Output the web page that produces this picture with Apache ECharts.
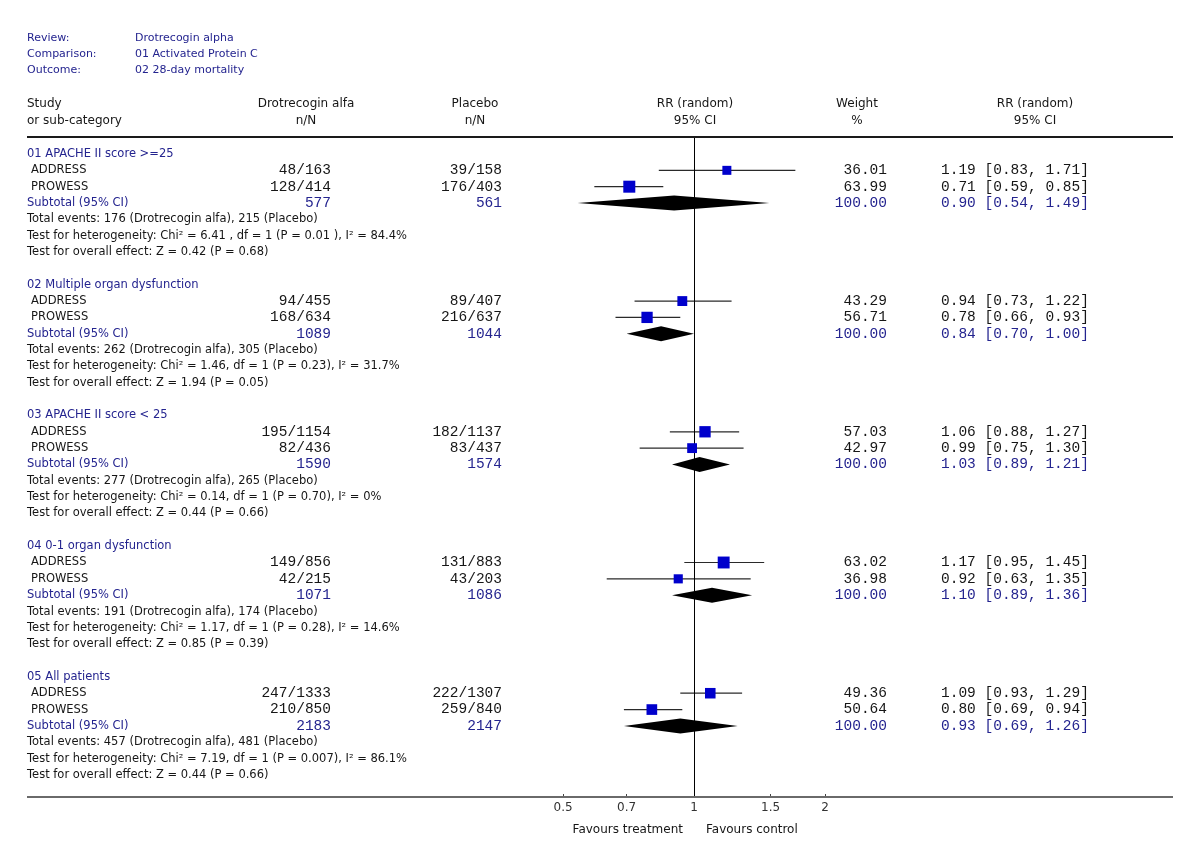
<!DOCTYPE html>
<html><head><meta charset="utf-8">
<script src="https://cdn.jsdelivr.net/npm/echarts@6/dist/echarts.min.js"></script>
<style>html,body{margin:0;padding:0;background:#fff}#c{width:1200px;height:866px}</style>
</head><body><div id="c"></div>
<script>
// ---------------- data ----------------
const reviewLabels = ['Review:', 'Comparison:', 'Outcome:'];
const reviewValues = ['Drotrecogin alpha', '01 Activated Protein C', '02 28-day mortality'];
const groups = ['01 APACHE II score >=25', '02 Multiple organ dysfunction', '03 APACHE II score < 25', '04 0-1 organ dysfunction', '05 All patients'];
const studies = ['ADDRESS', 'PROWESS'];
const treatEvents = [[48, 128], [94, 168], [195, 82], [149, 42], [247, 210]];
const treatTotal  = [[163, 414], [455, 634], [1154, 436], [856, 215], [1333, 850]];
const placEvents  = [[39, 176], [89, 216], [182, 83], [131, 43], [222, 259]];
const placTotal   = [[158, 403], [407, 637], [1137, 437], [883, 203], [1307, 840]];
const weights = [[36.01, 63.99], [43.29, 56.71], [57.03, 42.97], [63.02, 36.98], [49.36, 50.64]];
const rr = [[1.19, 0.71], [0.94, 0.78], [1.06, 0.99], [1.17, 0.92], [1.09, 0.80]];
const rrLo = [[0.83, 0.59], [0.73, 0.66], [0.88, 0.75], [0.95, 0.63], [0.93, 0.69]];
const rrHi = [[1.71, 0.85], [1.22, 0.93], [1.27, 1.30], [1.45, 1.35], [1.29, 0.94]];
const subTreatTotal = [577, 1089, 1590, 1071, 2183];
const subPlacTotal = [561, 1044, 1574, 1086, 2147];
const subRR = [0.90, 0.84, 1.03, 1.10, 0.93];
const subLo = [0.54, 0.70, 0.89, 0.89, 0.69];
const subHi = [1.49, 1.00, 1.21, 1.36, 1.26];
const totalEventsTreat = [176, 262, 277, 191, 457];
const totalEventsPlac = [215, 305, 265, 174, 481];
const hetText = [
  'Chi\u00b2 = 6.41 , df = 1 (P = 0.01 ), I\u00b2 = 84.4%',
  'Chi\u00b2 = 1.46, df = 1 (P = 0.23), I\u00b2 = 31.7%',
  'Chi\u00b2 = 0.14, df = 1 (P = 0.70), I\u00b2 = 0%',
  'Chi\u00b2 = 1.17, df = 1 (P = 0.28), I\u00b2 = 14.6%',
  'Chi\u00b2 = 7.19, df = 1 (P = 0.007), I\u00b2 = 86.1%'
];
const overallZ = ['0.42', '1.94', '0.44', '0.85', '0.44'];
const overallP = ['0.68', '0.05', '0.66', '0.39', '0.66'];
const tickValues = [0.5, 0.7, 1, 1.5, 2];
const tickLabels = ['0.5', '0.7', '1', '1.5', '2'];
const favours = ['Favours treatment', 'Favours control'];
const colHeaders = [['Study', 'or sub-category'], ['Drotrecogin alfa', 'n/N'], ['Placebo', 'n/N'], ['RR (random)', '95% CI'], ['Weight', '%'], ['RR (random)', '95% CI']];

// ---------------- layout ----------------
const ROW0 = 154, ROWH = 16.34, H = 866, W = 1200;
const X1PX = 694, DEC = 435; // pixel of RR=1 and pixels per decade
const LOGMIN = 0.1, LOGMAX = 10;
const gridLeft = X1PX + DEC * Math.log10(LOGMIN);
const gridRight = W - (X1PX + DEC * Math.log10(LOGMAX));
const PLOT_TOP = 137, PLOT_BOT = 797;
const rowOf = px => (px - ROW0) / ROWH;

const SANS = '11.5px "DejaVu Sans", sans-serif';
const SANS_R = '11px "DejaVu Sans", sans-serif';
const SANS_H = '12px "DejaVu Sans", sans-serif';
const MONO = '14.5px "Liberation Mono", "Courier New", monospace';
const BLACK = '#161616', BLUE = '#24248f';
const COL = { name: 27, study: 31, treat: 331, plac: 502, weight: 887, ci: 941, hdr: [27, 306, 475, 695, 857, 1035], rev: 135 };

const fmt = v => v.toFixed(2);
const texts = [];
function T(x, row, text, align, font, color) { texts.push({ x, row, text, align, font, color }); }

reviewLabels.forEach((l, i) => {
  const row = rowOf(38 + i * 16.2);
  T(COL.name, row, l, 'left', SANS_R, BLUE);
  T(COL.rev, row, reviewValues[i], 'left', SANS_R, BLUE);
});
colHeaders.forEach((h, c) => {
  h.forEach((s, k) => T(COL.hdr[c], rowOf(104 + k * 17), s, c === 0 ? 'left' : 'center', SANS_H, BLACK));
});

const squares = [], ciLines = [], diamonds = [];
groups.forEach((g, gi) => {
  const base = gi * 8;
  T(COL.name, base, g, 'left', SANS, BLUE);
  studies.forEach((s, si) => {
    const row = base + 1 + si;
    T(COL.study, row, s, 'left', SANS, BLACK);
    T(COL.treat, row, treatEvents[gi][si] + '/' + treatTotal[gi][si], 'right', MONO, BLACK);
    T(COL.plac, row, placEvents[gi][si] + '/' + placTotal[gi][si], 'right', MONO, BLACK);
    T(COL.weight, row, fmt(weights[gi][si]), 'right', MONO, BLACK);
    T(COL.ci, row, fmt(rr[gi][si]) + ' [' + fmt(rrLo[gi][si]) + ', ' + fmt(rrHi[gi][si]) + ']', 'left', MONO, BLACK);
    squares.push({ value: [rr[gi][si], row], symbolSize: 1.5 * Math.sqrt(weights[gi][si]) });
    ciLines.push([rrLo[gi][si], rrHi[gi][si], row]);
  });
  const srow = base + 3;
  T(COL.name, srow, 'Subtotal (95% CI)', 'left', SANS, BLUE);
  T(COL.treat, srow, String(subTreatTotal[gi]), 'right', MONO, BLUE);
  T(COL.plac, srow, String(subPlacTotal[gi]), 'right', MONO, BLUE);
  T(COL.weight, srow, '100.00', 'right', MONO, BLUE);
  T(COL.ci, srow, fmt(subRR[gi]) + ' [' + fmt(subLo[gi]) + ', ' + fmt(subHi[gi]) + ']', 'left', MONO, BLUE);
  diamonds.push([subLo[gi], subRR[gi], subHi[gi], srow]);
  T(COL.name, base + 4, 'Total events: ' + totalEventsTreat[gi] + ' (Drotrecogin alfa), ' + totalEventsPlac[gi] + ' (Placebo)', 'left', SANS, BLACK);
  T(COL.name, base + 5, 'Test for heterogeneity: ' + hetText[gi], 'left', SANS, BLACK);
  T(COL.name, base + 6, 'Test for overall effect: Z = ' + overallZ[gi] + ' (P = ' + overallP[gi] + ')', 'left', SANS, BLACK);
});
const FAV = '12px "DejaVu Sans", sans-serif';
T(683, rowOf(830), favours[0], 'right', FAV, BLACK);
T(706, rowOf(830), favours[1], 'left', FAV, BLACK);

// ---------------- chart ----------------
const chart = echarts.init(document.getElementById('c'), null, { renderer: 'canvas' });
const yMinTable = rowOf(0), yMaxTable = rowOf(H);
const yMinPlot = rowOf(PLOT_TOP), yMaxPlot = rowOf(PLOT_BOT);

chart.setOption({
  backgroundColor: '#fff',
  animation: false,
  grid: [
    { left: 0, right: 0, top: 0, bottom: 0 },
    { left: gridLeft, right: gridRight, top: PLOT_TOP, bottom: H - PLOT_BOT }
  ],
  xAxis: [
    { gridIndex: 0, type: 'value', min: 0, max: W, show: false },
    {
      gridIndex: 1, type: 'log', logBase: 10, min: LOGMIN, max: LOGMAX, position: 'bottom',
      axisLine: { show: false, onZero: false },
      splitLine: { show: false },
      axisTick: { show: true, inside: true, length: 3, lineStyle: { color: '#444', width: 1 }, customValues: tickValues },
      axisLabel: { show: true, customValues: tickValues, margin: 5, color: '#333', fontSize: 12, fontFamily: '"DejaVu Sans", sans-serif',
        formatter: v => { const i = tickValues.findIndex(t => Math.abs(t - v) < 1e-9); return i >= 0 ? tickLabels[i] : ''; } }
    }
  ],
  yAxis: [
    { gridIndex: 0, type: 'value', inverse: true, min: yMinTable, max: yMaxTable, show: false },
    { gridIndex: 1, type: 'value', inverse: true, min: yMinPlot, max: yMaxPlot, show: false }
  ],
  graphic: [
    { type: 'line', shape: { x1: 27, y1: PLOT_TOP, x2: 1173, y2: PLOT_TOP }, style: { stroke: '#1a1a1a', lineWidth: 2 }, z: 10 },
    { type: 'line', shape: { x1: 27, y1: PLOT_BOT, x2: 1173, y2: PLOT_BOT }, style: { stroke: '#6a6a6a', lineWidth: 2 }, z: 10 }
  ],
  series: [
    {
      type: 'custom', xAxisIndex: 0, yAxisIndex: 0, clip: false,
      data: texts.map(t => [t.x, t.row]),
      renderItem: (params, api) => {
        const t = texts[params.dataIndex];
        const p = api.coord([t.x, t.row]);
        return { type: 'text', x: p[0], y: p[1], style: { text: t.text, align: t.align, verticalAlign: 'middle', font: t.font, fill: t.color } };
      },
      silent: true
    },
    {
      type: 'custom', xAxisIndex: 1, yAxisIndex: 1, clip: false,
      data: ciLines,
      encode: { x: [0, 1], y: 2 },
      renderItem: (params, api) => {
        const a = api.coord([api.value(0), api.value(2)]);
        const b = api.coord([api.value(1), api.value(2)]);
        return { type: 'line', shape: { x1: a[0], y1: a[1], x2: b[0], y2: b[1] }, style: { stroke: '#2a2a2a', lineWidth: 1.2 } };
      },
      markLine: {
        silent: true, symbol: 'none', label: { show: false },
        lineStyle: { color: '#000', width: 1, type: 'solid' },
        data: [{ xAxis: 1 }]
      },
      z: 3
    },
    {
      type: 'scatter', xAxisIndex: 1, yAxisIndex: 1,
      symbol: 'rect', data: squares,
      itemStyle: { color: '#0000cc', opacity: 1 },
      z: 5
    },
    {
      type: 'custom', xAxisIndex: 1, yAxisIndex: 1, clip: false,
      data: diamonds,
      encode: { x: [0, 1, 2], y: 3 },
      renderItem: (params, api) => {
        const r = api.value(3), h = 7.5;
        const l = api.coord([api.value(0), r]);
        const m = api.coord([api.value(1), r]);
        const u = api.coord([api.value(2), r]);
        return { type: 'polygon', shape: { points: [[l[0], l[1]], [m[0], m[1] - h], [u[0], u[1]], [m[0], m[1] + h]] }, style: { fill: '#000' } };
      },
      z: 4
    }
  ]
});
</script>
</body></html>
